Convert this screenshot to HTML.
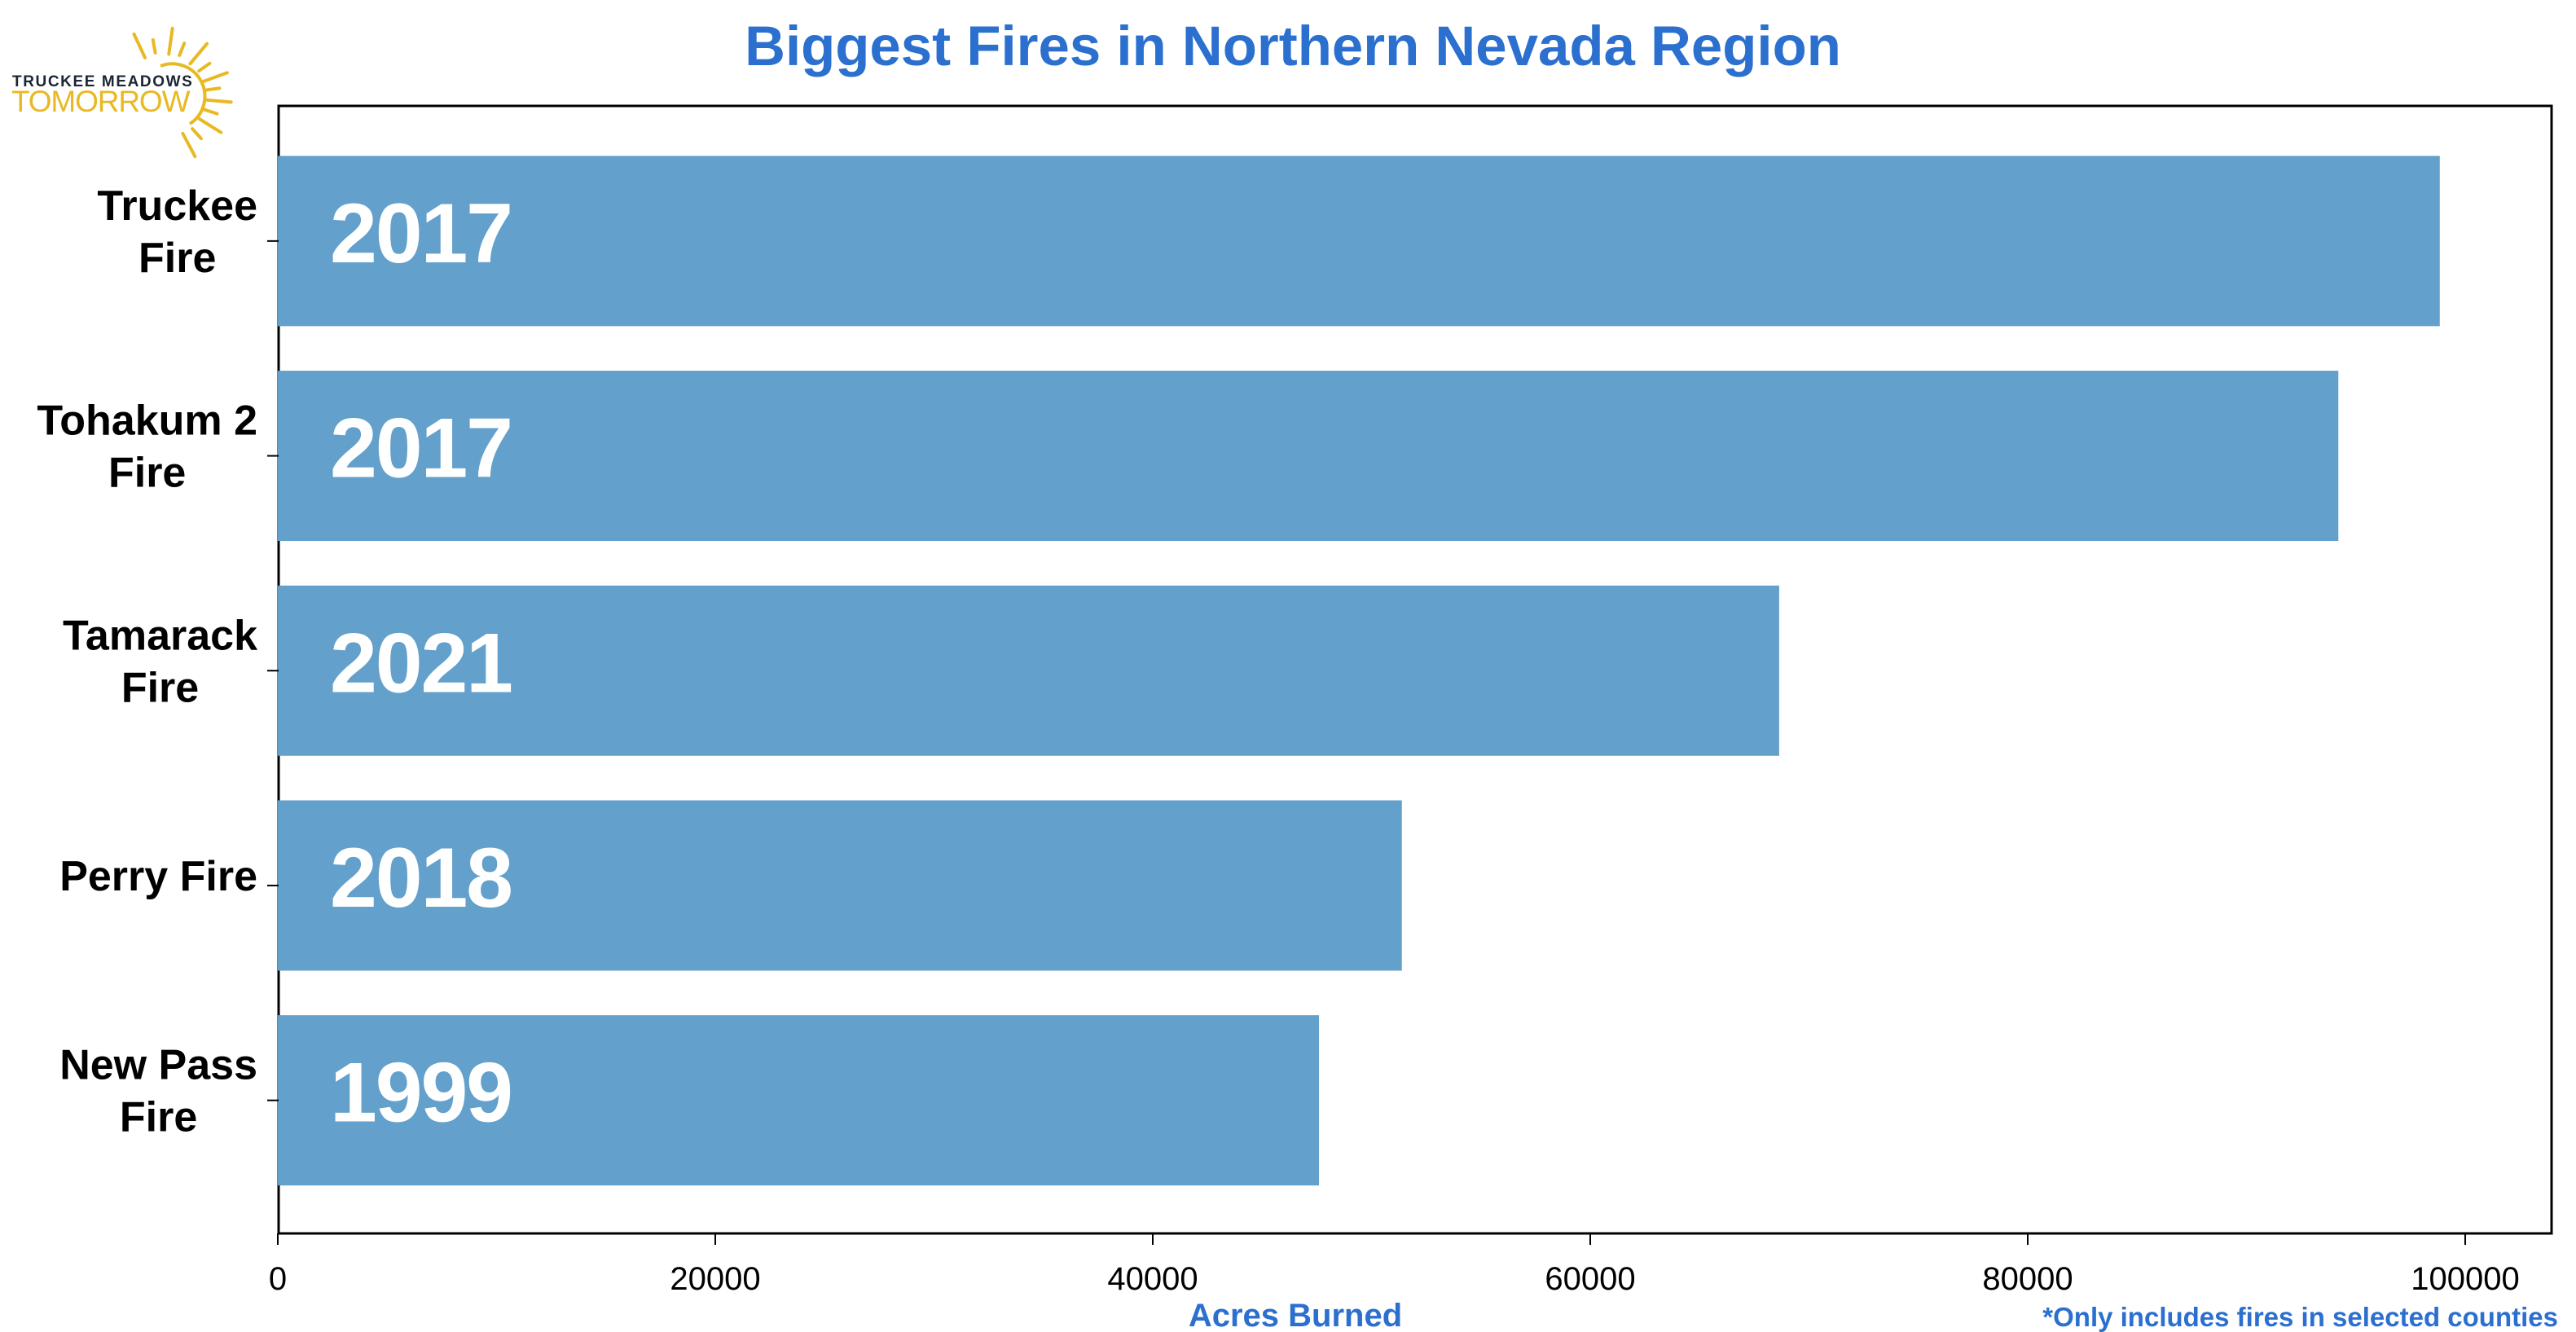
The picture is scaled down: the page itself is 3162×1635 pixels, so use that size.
<!DOCTYPE html>
<html><head><meta charset="utf-8"><style>
body{margin:0;background:#fff;}
svg{display:block;font-family:"Liberation Sans",sans-serif;}
</style></head><body>
<svg id="chart" width="3162" height="1635" viewBox="0 0 3162 1635">
<g>
  <text x="15" y="106" font-size="19" font-weight="bold" fill="#1b2533" letter-spacing="1.6">TRUCKEE MEADOWS</text>
  <text x="14" y="137" font-size="37" fill="#e8b923" letter-spacing="0.5" textLength="220">TOMORROW</text>
  <path d="M197 81 A40 40 0 0 1 233 152" fill="none" stroke="#e8b923" stroke-width="4"/>
  <g id="rays" stroke="#e8b923" stroke-width="4" stroke-linecap="round"></g>
</g>
<text x="1587" y="80" text-anchor="middle" font-size="69" font-weight="bold" fill="#2b6fcf">Biggest Fires in Northern Nevada Region</text>
<rect x="342" y="130" width="2790" height="1384" fill="none" stroke="#000" stroke-width="3"/>
<g id="bars"></g>
<g id="xaxis"></g>
<g id="yaxis"></g>
<text x="1590" y="1628" text-anchor="middle" font-size="40" font-weight="bold" fill="#2b6fcf">Acres Burned</text>
<text x="3140" y="1628" text-anchor="end" font-size="33" font-weight="bold" fill="#2b6fcf">*Only includes fires in selected counties</text>
</svg>
<script>
const categories=[["Truckee","Fire"],["Tohakum 2","Fire"],["Tamarack","Fire"],["Perry Fire"],["New Pass","Fire"]];
const acres=[98837,94200,68637,51387,47600];
const years=["2017","2017","2021","2018","1999"];
const xTicks=[0,20000,40000,60000,80000,100000];
const NS="http://www.w3.org/2000/svg";
const x0=341,pxPer=537/20000;
function xs(v){return x0+v*pxPer;}
const bandStart=164,band=263.7,barH=209;
function yc(i){return bandStart+band*i+band/2;}
function mk(t,a,p){const e=document.createElementNS(NS,t);for(const k in a)e.setAttribute(k,a[k]);p.appendChild(e);return e;}
const bars=document.getElementById('bars');
acres.forEach((v,i)=>{
  const r=mk('rect',{x:xs(0),y:yc(i)-barH/2,width:xs(v)-xs(0),height:barH,fill:'#63a0cb'},bars);
  
  
  const t=mk('text',{x:405,y:yc(i)+26,'font-size':104,'font-weight':'bold',fill:'#fff',textLength:225},bars);
  t.textContent=years[i];
  
  
});
const xa=document.getElementById('xaxis');
xTicks.forEach(v=>{
  const l=mk('line',{x1:xs(v),x2:xs(v),y1:1514,y2:1528,stroke:'#000','stroke-width':2},xa);
  
  
  const t=mk('text',{x:xs(v),y:1583,'text-anchor':'middle','font-size':40,fill:'#000'},xa);
  t.textContent=v;
  
  
});
const ya=document.getElementById('yaxis');
categories.forEach((c,i)=>{
  const l=mk('line',{x1:328,x2:342,y1:yc(i),y2:yc(i),stroke:'#000','stroke-width':2},ya);
  
  
  const t=mk('text',{'text-anchor':'middle','font-size':52,'font-weight':'bold',fill:'#000'},ya);
  
  
  const lh=64,start=yc(i)-(c.length-1)*lh/2+6;
  const spans=c.map((s,j)=>{const ts=mk('tspan',{x:0,y:start+j*lh},t);ts.textContent=s;return ts;});
  let w=0;spans.forEach(s=>{w=Math.max(w,s.getComputedTextLength());});
  spans.forEach(s=>s.setAttribute('x',316-w/2));
});
const rays=document.getElementById('rays');
[-115,-100,-82,-68,-50,-35,-20,-8,5,18,32,48,62].forEach((a,k)=>{
  const r1=k%2?54:52,r2=k%2?70:84,rad=a*Math.PI/180,cx=200,cy=118;
  mk('line',{x1:cx+r1*Math.cos(rad),y1:cy+r1*Math.sin(rad),x2:cx+r2*Math.cos(rad),y2:cy+r2*Math.sin(rad)},rays);
});
</script>
</body></html>
